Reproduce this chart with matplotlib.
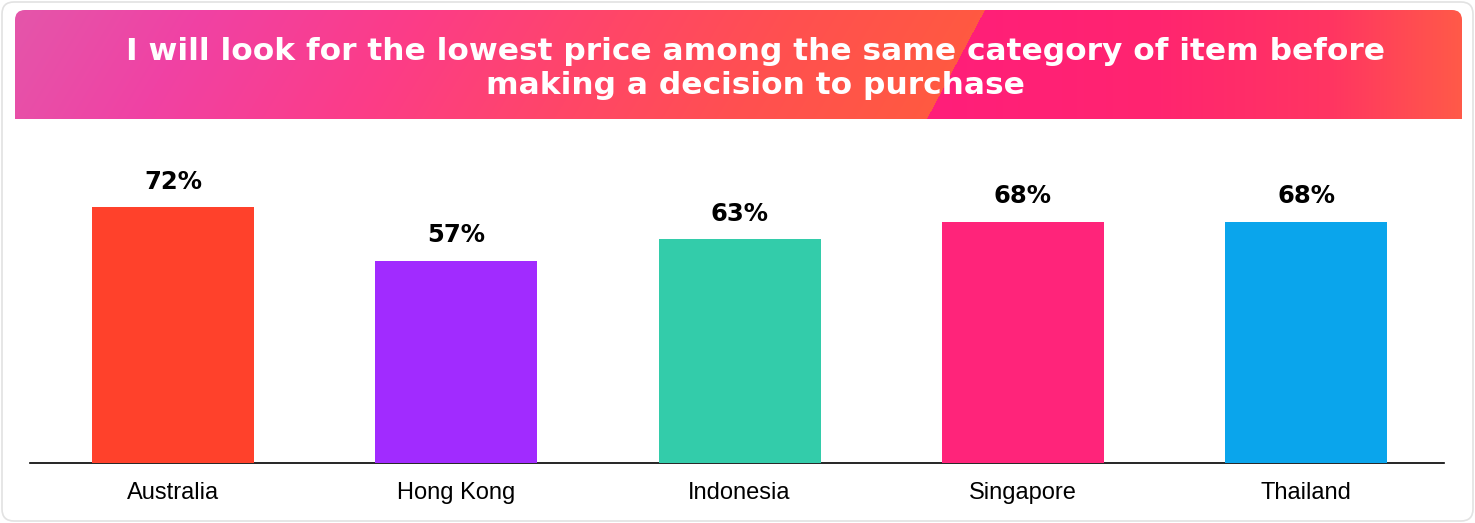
import numpy as np
import matplotlib
matplotlib.use("Agg")
import matplotlib.pyplot as plt
from matplotlib.patches import FancyBboxPatch

countries = ["Australia", "Hong Kong", "Indonesia", "Singapore", "Thailand"]
values = [72, 57, 63, 68, 68]
bar_colors = ["#FF412B", "#A12BFF", "#33CCAA", "#FF247A", "#0AA5EC"]

title = ("I will look for the lowest price among the same category of item before\n"
         "making a decision to purchase")

W, H = 1475, 523
fig = plt.figure(figsize=(W / 100, H / 100), dpi=100)

# background layer in pixel coordinates
bg = fig.add_axes([0, 0, 1, 1])
bg.set_xlim(0, W)
bg.set_ylim(H, 0)
bg.axis("off")

card = FancyBboxPatch((2, 2), W - 4, H - 4, boxstyle="round,pad=0,rounding_size=12",
                      facecolor="white", edgecolor="#e2e2e2", linewidth=1.2, zorder=0)
bg.add_patch(card)

# header band: two gradients split by a slanted edge
x0, x1, y0, y1 = 15, 1462, 10, 119
xs = np.arange(x0, x1) + 0.5
ys = np.arange(y0, y1) + 0.5
XX, YY = np.meshgrid(xs, ys)


def ramp(pos, stops):
    px = [p for p, _ in stops]
    cols = np.array([matplotlib.colors.to_rgb(c) for _, c in stops])
    return np.stack([np.interp(pos, px, cols[:, k]) for k in range(3)], axis=-1)


left_stops = [(15, "#E456AA"), (200, "#F042A4"), (420, "#FC3C88"),
              (620, "#FF4668"), (800, "#FF5050"), (1000, "#FF5A40")]
right_stops = [(930, "#FF1E7A"), (1150, "#FF2470"), (1330, "#FF3562"), (1462, "#FF5A48")]

tilt = XX + (YY - 10) * 0.6
img_left = ramp(tilt, left_stops)
img_right = ramp(XX, right_stops)
edge = 985 - (YY - 10) * (58 / 109)
img = np.where((XX < edge)[..., None], img_left, img_right)

clip = FancyBboxPatch((x0, y0), x1 - x0, y1 - y0 + 20, boxstyle="round,pad=0,rounding_size=10",
                      facecolor="none", edgecolor="none")
bg.add_patch(clip)
im = bg.imshow(img, extent=(x0, x1, y1, y0), interpolation="bilinear", aspect="auto", zorder=1)
im.set_clip_path(clip)
bg.set_xlim(0, W)
bg.set_ylim(H, 0)

fig.text(755 / W, 1 - 68.5 / H, title, ha="center", va="center", color="white",
         fontsize=22.5, fontweight="bold", family="DejaVu Sans", linespacing=1.2)

# bar chart
ax = fig.add_axes([30 / W, (H - 463) / H, (1444 - 30) / W, (463 - 130) / H])
ax.patch.set_alpha(0)
pos = np.arange(len(countries))
bars = ax.bar(pos, values, width=0.572, color=bar_colors, zorder=2)
ax.set_xlim(-0.505, 4.487)
ax.set_ylim(0, 93.8)

for rect, v in zip(bars, values):
    ax.annotate(f"{v}%", (rect.get_x() + rect.get_width() / 2, v),
                xytext=(0, 13.5), textcoords="offset points", ha="center", va="baseline",
                fontsize=17.5, fontweight="bold", family="DejaVu Sans", color="black")

ax.set_xticks(pos)
ax.set_xticklabels(countries, fontsize=17, family="Liberation Sans", color="black")
ax.tick_params(axis="x", length=0, pad=14)
ax.set_yticks([])
for side in ["top", "right", "left"]:
    ax.spines[side].set_visible(False)
ax.spines["bottom"].set_color("black")
ax.spines["bottom"].set_linewidth(1.2)
ax.spines["bottom"].set_zorder(1)

fig.savefig("out.png", dpi=100)
